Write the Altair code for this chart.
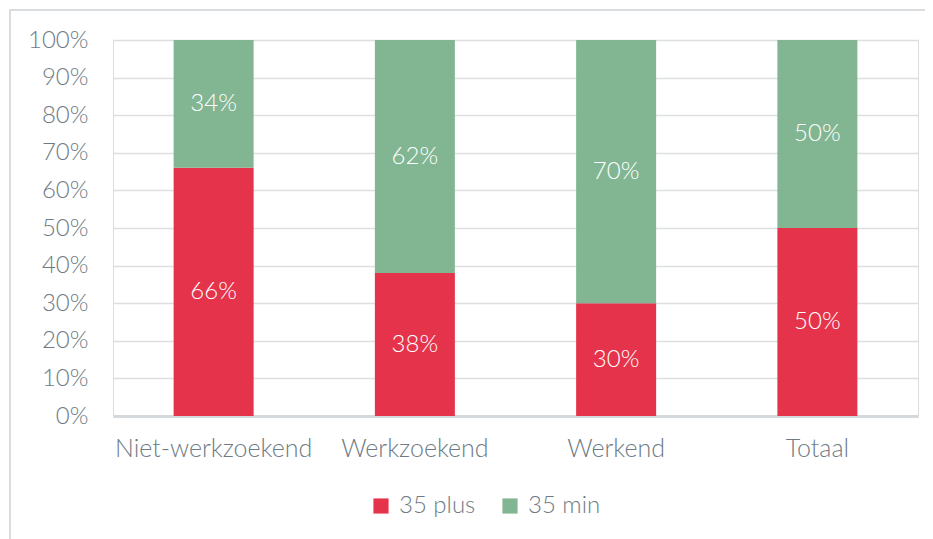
import altair as alt
import pandas as pd

categories = ["Niet-werkzoekend", "Werkzoekend", "Werkend", "Totaal"]
plus_values = [0.66, 0.38, 0.30, 0.50]
min_values = [0.34, 0.62, 0.70, 0.50]
series = ["35 plus", "35 min"]
colors = ["#E5334B", "#82B692"]
y_ticks = [i / 10 for i in range(11)]

rows = []
for c, p, m in zip(categories, plus_values, min_values):
    rows.append({"cat": c, "serie": "35 plus", "val": p, "ord": 0})
    rows.append({"cat": c, "serie": "35 min", "val": m, "ord": 1})
df = pd.DataFrame(rows)

FONT = "Lato"
GRAY = "#6E7B85"
W = 300

base = alt.Chart(df).transform_stack(
    stack="val", groupby=["cat"], as_=["y0", "y1"], sort=[alt.SortField("ord", "ascending")]
).transform_calculate(mid="(datum.y0 + datum.y1) / 2")

y_axis = alt.Axis(values=y_ticks, format=".0%", labelFontSize=24, labelColor=GRAY,
                  labelFont=FONT, labelFontWeight=W, labelPadding=25, ticks=False, domain=False,
                  grid=True, gridColor="#DDE0E3", gridWidth=1.5, labelOverlap=False)
x_axis = alt.Axis(labelAngle=0, labelFontSize=25, labelColor=GRAY, labelFont=FONT,
                  labelFontWeight=W, labelPadding=20, ticks=False, domain=True,
                  domainColor="#D5D9DC", domainWidth=3, grid=False, labelOverlap=False,
                  labelLimit=0)
x_scale = alt.Scale(paddingInner=0.6, paddingOuter=0.3)
y_scale = alt.Scale(domain=[0, 1], nice=False)

bars = base.mark_bar(size=80).encode(
    x=alt.X("cat:N", sort=categories, title=None, axis=x_axis, scale=x_scale),
    y=alt.Y("y0:Q", title=None, scale=y_scale, axis=y_axis),
    y2="y1:Q",
    color=alt.Color("serie:N", sort=series, title=None,
                    scale=alt.Scale(domain=series, range=colors),
                    legend=alt.Legend(orient="none", legendX=256, legendY=454, direction="horizontal",
                                      symbolType="square", symbolSize=230, symbolStrokeWidth=0,
                                      labelFontSize=24, labelColor=GRAY, labelFont=FONT,
                                      labelFontWeight=W, columnPadding=22, labelOffset=6)),
)

labels = base.mark_text(color="white", fontSize=24, font=FONT, fontWeight=W).encode(
    x=alt.X("cat:N", sort=categories, title=None, axis=x_axis, scale=x_scale),
    y=alt.Y("mid:Q", title=None, scale=y_scale, axis=y_axis),
    text=alt.Text("val:Q", format=".0%"),
)

border = alt.Chart(df).mark_rect(fill=None, stroke="#DADDE0", strokeWidth=2, clip=False).encode(
    x=alt.value(-103), x2=alt.value(850), y=alt.value(-30), y2=alt.value(560)
).transform_filter("datum.ord == 0 && datum.cat == 'Totaal'")

chart = alt.layer(border, bars, labels).properties(
    width=805, height=376,
    autosize=alt.AutoSizeParams(type="none"),
    padding={"left": 105, "top": 32, "right": 7, "bottom": 123},
).configure_view(stroke=None).configure(background="white")

chart.save("out.html", embed_options={"renderer": "svg", "actions": False})
